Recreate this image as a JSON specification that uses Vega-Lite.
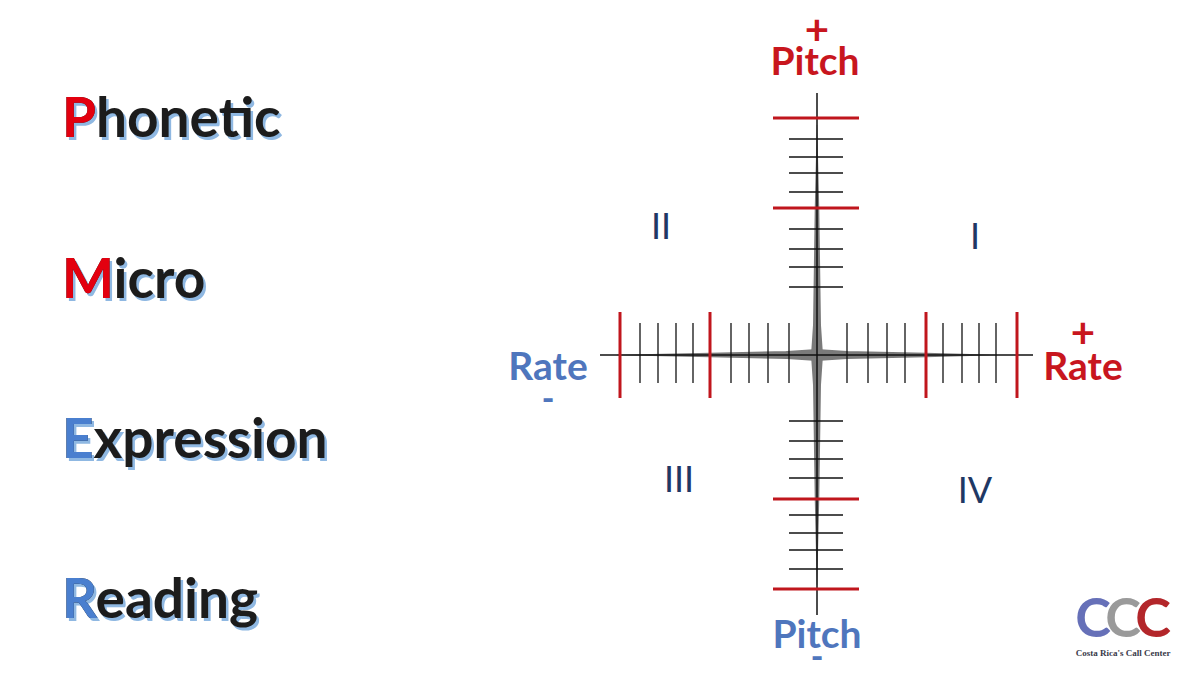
{
  "$schema": "https://vega.github.io/schema/vega-lite/v6.json",
  "description": "PMER: pitch / rate quadrant diagram",
  "autosize": "none",
  "width": 1200,
  "height": 675,
  "padding": 0,
  "background": "white",
  "config": {"view": {"stroke": null}},
  "resolve": {"scale": {"color": "independent", "size": "independent"}},
  "datasets": {
    "words": [
      {"word": "Phonetic", "initial": "P", "rate": -75.5, "pitch": 21.8},
      {"word": "Micro", "initial": "M", "rate": -75.5, "pitch": 5.7},
      {"word": "Expression", "initial": "E", "rate": -75.5, "pitch": -10.3},
      {"word": "Reading", "initial": "R", "rate": -75.5, "pitch": -26.3}
    ],
    "arms": [
      {"arm": "left", "step": 0, "rate": 0, "pitch": 0, "strength": 1},
      {"arm": "left", "step": 1, "rate": -3, "pitch": 0, "strength": 0.65},
      {"arm": "left", "step": 2, "rate": -10.7, "pitch": 0, "strength": 0.35},
      {"arm": "left", "step": 3, "rate": -20, "pitch": 0, "strength": 0},
      {"arm": "right", "step": 0, "rate": 0, "pitch": 0, "strength": 1},
      {"arm": "right", "step": 1, "rate": 3, "pitch": 0, "strength": 0.65},
      {"arm": "right", "step": 2, "rate": 10.9, "pitch": 0, "strength": 0.35},
      {"arm": "right", "step": 3, "rate": 18, "pitch": 0, "strength": 0},
      {"arm": "up", "step": 0, "rate": 0, "pitch": 0, "strength": 1},
      {"arm": "up", "step": 1, "rate": 0, "pitch": 3, "strength": 0.65},
      {"arm": "up", "step": 2, "rate": 0, "pitch": 14.7, "strength": 0.35},
      {"arm": "up", "step": 3, "rate": 0, "pitch": 23, "strength": 0},
      {"arm": "down", "step": 0, "rate": 0, "pitch": 0, "strength": 1},
      {"arm": "down", "step": 1, "rate": 0, "pitch": -3, "strength": 0.65},
      {"arm": "down", "step": 2, "rate": 0, "pitch": -14.4, "strength": 0.35},
      {"arm": "down", "step": 3, "rate": 0, "pitch": -23, "strength": 0}
    ],
    "axes": [
      {"axis": "rate", "from": -21.7, "to": 21.6},
      {"axis": "pitch", "from": -26.0, "to": 26.2}
    ],
    "ticks": [
      {"axis": "rate", "kind": "major", "at": -19.7},
      {"axis": "rate", "kind": "minor", "at": -17.7},
      {"axis": "rate", "kind": "minor", "at": -15.9},
      {"axis": "rate", "kind": "minor", "at": -14.1},
      {"axis": "rate", "kind": "minor", "at": -12.4},
      {"axis": "rate", "kind": "major", "at": -10.7},
      {"axis": "rate", "kind": "minor", "at": -8.6},
      {"axis": "rate", "kind": "minor", "at": -6.8},
      {"axis": "rate", "kind": "minor", "at": -4.9},
      {"axis": "rate", "kind": "minor", "at": -2.8},
      {"axis": "rate", "kind": "minor", "at": 3.0},
      {"axis": "rate", "kind": "minor", "at": 5.1},
      {"axis": "rate", "kind": "minor", "at": 7.0},
      {"axis": "rate", "kind": "minor", "at": 8.8},
      {"axis": "rate", "kind": "major", "at": 10.9},
      {"axis": "rate", "kind": "minor", "at": 12.6},
      {"axis": "rate", "kind": "minor", "at": 14.5},
      {"axis": "rate", "kind": "minor", "at": 16.2},
      {"axis": "rate", "kind": "minor", "at": 17.9},
      {"axis": "rate", "kind": "major", "at": 20.0},
      {"axis": "pitch", "kind": "major", "at": 23.7},
      {"axis": "pitch", "kind": "minor", "at": 21.6},
      {"axis": "pitch", "kind": "minor", "at": 19.8},
      {"axis": "pitch", "kind": "minor", "at": 18.2},
      {"axis": "pitch", "kind": "minor", "at": 16.3},
      {"axis": "pitch", "kind": "major", "at": 14.7},
      {"axis": "pitch", "kind": "minor", "at": 12.6},
      {"axis": "pitch", "kind": "minor", "at": 10.6},
      {"axis": "pitch", "kind": "minor", "at": 8.8},
      {"axis": "pitch", "kind": "minor", "at": 6.8},
      {"axis": "pitch", "kind": "minor", "at": -6.6},
      {"axis": "pitch", "kind": "minor", "at": -8.6},
      {"axis": "pitch", "kind": "minor", "at": -10.4},
      {"axis": "pitch", "kind": "minor", "at": -12.3},
      {"axis": "pitch", "kind": "major", "at": -14.4},
      {"axis": "pitch", "kind": "minor", "at": -16.0},
      {"axis": "pitch", "kind": "minor", "at": -17.8},
      {"axis": "pitch", "kind": "minor", "at": -19.5},
      {"axis": "pitch", "kind": "minor", "at": -21.4},
      {"axis": "pitch", "kind": "major", "at": -23.4}
    ],
    "labels": [
      {"label": "Pitch", "sign": "+", "rate": -0.2, "pitch": 28.0},
      {"label": "Pitch", "sign": "-", "rate": 0.0, "pitch": -29.3},
      {"label": "Rate", "sign": "-", "rate": -26.9, "pitch": -2.5},
      {"label": "Rate", "sign": "+", "rate": 26.6, "pitch": -2.5}
    ],
    "signs": [
      {"sign": "+", "rate": 0.0, "pitch": 32.3},
      {"sign": "-", "rate": 0.0, "pitch": -31.3},
      {"sign": "-", "rate": -26.9, "pitch": -5.5},
      {"sign": "+", "rate": 26.6, "pitch": 2.0}
    ],
    "quadrants": [
      {"quadrant": "I", "rate": 15.8, "pitch": 11.7},
      {"quadrant": "II", "rate": -15.6, "pitch": 12.7},
      {"quadrant": "III", "rate": -13.8, "pitch": -12.6},
      {"quadrant": "IV", "rate": 15.8, "pitch": -13.7}
    ],
    "logo": [
      {"part": "blue", "rate": 27.6, "pitch": -26.6},
      {"part": "gray", "rate": 30.6, "pitch": -26.6},
      {"part": "red", "rate": 33.6, "pitch": -26.6}
    ]
  },
  "layer": [
    {
      "data": {"name": "arms"},
      "mark": {"type": "trail", "color": "#7a7a7a"},
      "encoding": {
        "x": {"field": "rate", "type": "quantitative", "scale": {"domain": [-81.7, 38.3], "nice": false, "zero": false}, "axis": null},
        "y": {"field": "pitch", "type": "quantitative", "scale": {"domain": [-32.0, 35.5], "nice": false, "zero": false}, "axis": null},
        "detail": {"field": "arm"},
        "order": {"field": "step"},
        "size": {"field": "strength", "type": "quantitative", "scale": {"domain": [0, 1], "range": [0.5, 12]}, "legend": null}
      }
    },
    {
      "data": {"name": "axes"},
      "transform": [{"filter": "datum.axis === 'rate'"}],
      "mark": {"type": "rule", "color": "#111111", "strokeWidth": 1.5},
      "encoding": {
        "x": {"field": "from", "type": "quantitative", "scale": {"domain": [-81.7, 38.3], "nice": false, "zero": false}, "axis": null},
        "x2": {"field": "to"},
        "y": {"datum": 0, "type": "quantitative", "scale": {"domain": [-32.0, 35.5], "nice": false, "zero": false}, "axis": null}
      }
    },
    {
      "data": {"name": "axes"},
      "transform": [{"filter": "datum.axis === 'pitch'"}],
      "mark": {"type": "rule", "color": "#111111", "strokeWidth": 1.5},
      "encoding": {
        "y": {"field": "from", "type": "quantitative", "scale": {"domain": [-32.0, 35.5], "nice": false, "zero": false}, "axis": null},
        "y2": {"field": "to"},
        "x": {"datum": 0, "type": "quantitative", "scale": {"domain": [-81.7, 38.3], "nice": false, "zero": false}, "axis": null}
      }
    },
    {
      "data": {"name": "ticks"},
      "transform": [{"filter": "datum.axis === 'rate' && datum.kind === 'minor'"}],
      "mark": {"type": "rule", "color": "#111111", "strokeWidth": 1.3},
      "encoding": {
        "x": {"field": "at", "type": "quantitative", "scale": {"domain": [-81.7, 38.3], "nice": false, "zero": false}, "axis": null},
        "y": {"datum": 3.2, "type": "quantitative", "scale": {"domain": [-32.0, 35.5], "nice": false, "zero": false}, "axis": null},
        "y2": {"datum": -2.8}
      }
    },
    {
      "data": {"name": "ticks"},
      "transform": [{"filter": "datum.axis === 'pitch' && datum.kind === 'minor'"}],
      "mark": {"type": "rule", "color": "#111111", "strokeWidth": 1.3},
      "encoding": {
        "y": {"field": "at", "type": "quantitative", "scale": {"domain": [-32.0, 35.5], "nice": false, "zero": false}, "axis": null},
        "x": {"datum": -2.8, "type": "quantitative", "scale": {"domain": [-81.7, 38.3], "nice": false, "zero": false}, "axis": null},
        "x2": {"datum": 2.6}
      }
    },
    {
      "data": {"name": "ticks"},
      "transform": [{"filter": "datum.axis === 'rate' && datum.kind === 'major'"}],
      "mark": {"type": "rule", "color": "#c0161d", "strokeWidth": 3},
      "encoding": {
        "x": {"field": "at", "type": "quantitative", "scale": {"domain": [-81.7, 38.3], "nice": false, "zero": false}, "axis": null},
        "y": {"datum": 4.3, "type": "quantitative", "scale": {"domain": [-32.0, 35.5], "nice": false, "zero": false}, "axis": null},
        "y2": {"datum": -4.3}
      }
    },
    {
      "data": {"name": "ticks"},
      "transform": [{"filter": "datum.axis === 'pitch' && datum.kind === 'major'"}],
      "mark": {"type": "rule", "color": "#c0161d", "strokeWidth": 3},
      "encoding": {
        "y": {"field": "at", "type": "quantitative", "scale": {"domain": [-32.0, 35.5], "nice": false, "zero": false}, "axis": null},
        "x": {"datum": -4.4, "type": "quantitative", "scale": {"domain": [-81.7, 38.3], "nice": false, "zero": false}, "axis": null},
        "x2": {"datum": 4.2}
      }
    },
    {
      "data": {"name": "words"},
      "mark": {"type": "text", "font": "Lato", "fontWeight": "bold", "fontSize": 55, "align": "left", "baseline": "alphabetic", "color": "#8fb8e2", "dx": 2.5, "dy": 2.5},
      "encoding": {
        "x": {"field": "rate", "type": "quantitative", "scale": {"domain": [-81.7, 38.3], "nice": false, "zero": false}, "axis": null},
        "y": {"field": "pitch", "type": "quantitative", "scale": {"domain": [-32.0, 35.5], "nice": false, "zero": false}, "axis": null},
        "text": {"field": "word"}
      }
    },
    {
      "data": {"name": "words"},
      "mark": {"type": "text", "font": "Lato", "fontWeight": "bold", "fontSize": 55, "align": "left", "baseline": "alphabetic", "color": "#1c1c1c"},
      "encoding": {
        "x": {"field": "rate", "type": "quantitative", "scale": {"domain": [-81.7, 38.3], "nice": false, "zero": false}, "axis": null},
        "y": {"field": "pitch", "type": "quantitative", "scale": {"domain": [-32.0, 35.5], "nice": false, "zero": false}, "axis": null},
        "text": {"field": "word"}
      }
    },
    {
      "data": {"name": "words"},
      "mark": {"type": "text", "font": "Lato", "fontWeight": "bold", "fontSize": 55, "align": "left", "baseline": "alphabetic"},
      "encoding": {
        "x": {"field": "rate", "type": "quantitative", "scale": {"domain": [-81.7, 38.3], "nice": false, "zero": false}, "axis": null},
        "y": {"field": "pitch", "type": "quantitative", "scale": {"domain": [-32.0, 35.5], "nice": false, "zero": false}, "axis": null},
        "text": {"field": "initial"},
        "color": {"field": "initial", "type": "nominal", "scale": {"domain": ["P", "M", "E", "R"], "range": ["#e3000f", "#e3000f", "#4a7fcf", "#4a7fcf"]}, "legend": null}
      }
    },
    {
      "data": {"name": "labels"},
      "mark": {"type": "text", "font": "Lato", "fontWeight": "bold", "fontSize": 39, "align": "center", "baseline": "alphabetic"},
      "encoding": {
        "x": {"field": "rate", "type": "quantitative", "scale": {"domain": [-81.7, 38.3], "nice": false, "zero": false}, "axis": null},
        "y": {"field": "pitch", "type": "quantitative", "scale": {"domain": [-32.0, 35.5], "nice": false, "zero": false}, "axis": null},
        "text": {"field": "label"},
        "color": {"field": "sign", "type": "nominal", "scale": {"domain": ["+", "-"], "range": ["#c8161e", "#4f76bd"]}, "legend": null}
      }
    },
    {
      "data": {"name": "signs"},
      "transform": [{"filter": "datum.sign === '+'"}],
      "mark": {"type": "text", "font": "Lato", "fontWeight": "bold", "fontSize": 42, "align": "center", "baseline": "middle", "color": "#c8161e"},
      "encoding": {
        "x": {"field": "rate", "type": "quantitative", "scale": {"domain": [-81.7, 38.3], "nice": false, "zero": false}, "axis": null},
        "y": {"field": "pitch", "type": "quantitative", "scale": {"domain": [-32.0, 35.5], "nice": false, "zero": false}, "axis": null},
        "text": {"field": "sign"}
      }
    },
    {
      "data": {"name": "signs"},
      "transform": [{"filter": "datum.sign === '-'"}],
      "mark": {"type": "text", "font": "Lato", "fontWeight": "900", "fontSize": 34, "align": "center", "baseline": "alphabetic", "color": "#4f76bd"},
      "encoding": {
        "x": {"field": "rate", "type": "quantitative", "scale": {"domain": [-81.7, 38.3], "nice": false, "zero": false}, "axis": null},
        "y": {"field": "pitch", "type": "quantitative", "scale": {"domain": [-32.0, 35.5], "nice": false, "zero": false}, "axis": null},
        "text": {"field": "sign"}
      }
    },
    {
      "data": {"name": "quadrants"},
      "mark": {"type": "text", "font": "Lato", "fontSize": 36, "align": "center", "baseline": "middle", "color": "#1f3864"},
      "encoding": {
        "x": {"field": "rate", "type": "quantitative", "scale": {"domain": [-81.7, 38.3], "nice": false, "zero": false}, "axis": null},
        "y": {"field": "pitch", "type": "quantitative", "scale": {"domain": [-32.0, 35.5], "nice": false, "zero": false}, "axis": null},
        "text": {"field": "quadrant"}
      }
    },
    {
      "data": {"name": "logo"},
      "mark": {"type": "text", "font": "Lato", "fontWeight": "bold", "fontSize": 54, "align": "center", "baseline": "middle", "text": "C"},
      "encoding": {
        "x": {"field": "rate", "type": "quantitative", "scale": {"domain": [-81.7, 38.3], "nice": false, "zero": false}, "axis": null},
        "y": {"field": "pitch", "type": "quantitative", "scale": {"domain": [-32.0, 35.5], "nice": false, "zero": false}, "axis": null},
        "color": {"field": "part", "type": "nominal", "scale": {"domain": ["blue", "gray", "red"], "range": ["#6670b8", "#9a9a9a", "#b3262a"]}, "legend": null}
      }
    },
    {
      "data": {"values": [{"name": "Costa Rica's Call Center", "rate": 30.6, "pitch": -29.8}]},
      "mark": {"type": "text", "font": "Liberation Serif", "fontWeight": "bold", "fontSize": 9, "align": "center", "baseline": "middle", "color": "#3a3a4a"},
      "encoding": {
        "x": {"field": "rate", "type": "quantitative", "scale": {"domain": [-81.7, 38.3], "nice": false, "zero": false}, "axis": null},
        "y": {"field": "pitch", "type": "quantitative", "scale": {"domain": [-32.0, 35.5], "nice": false, "zero": false}, "axis": null},
        "text": {"field": "name"}
      }
    }
  ]
}
